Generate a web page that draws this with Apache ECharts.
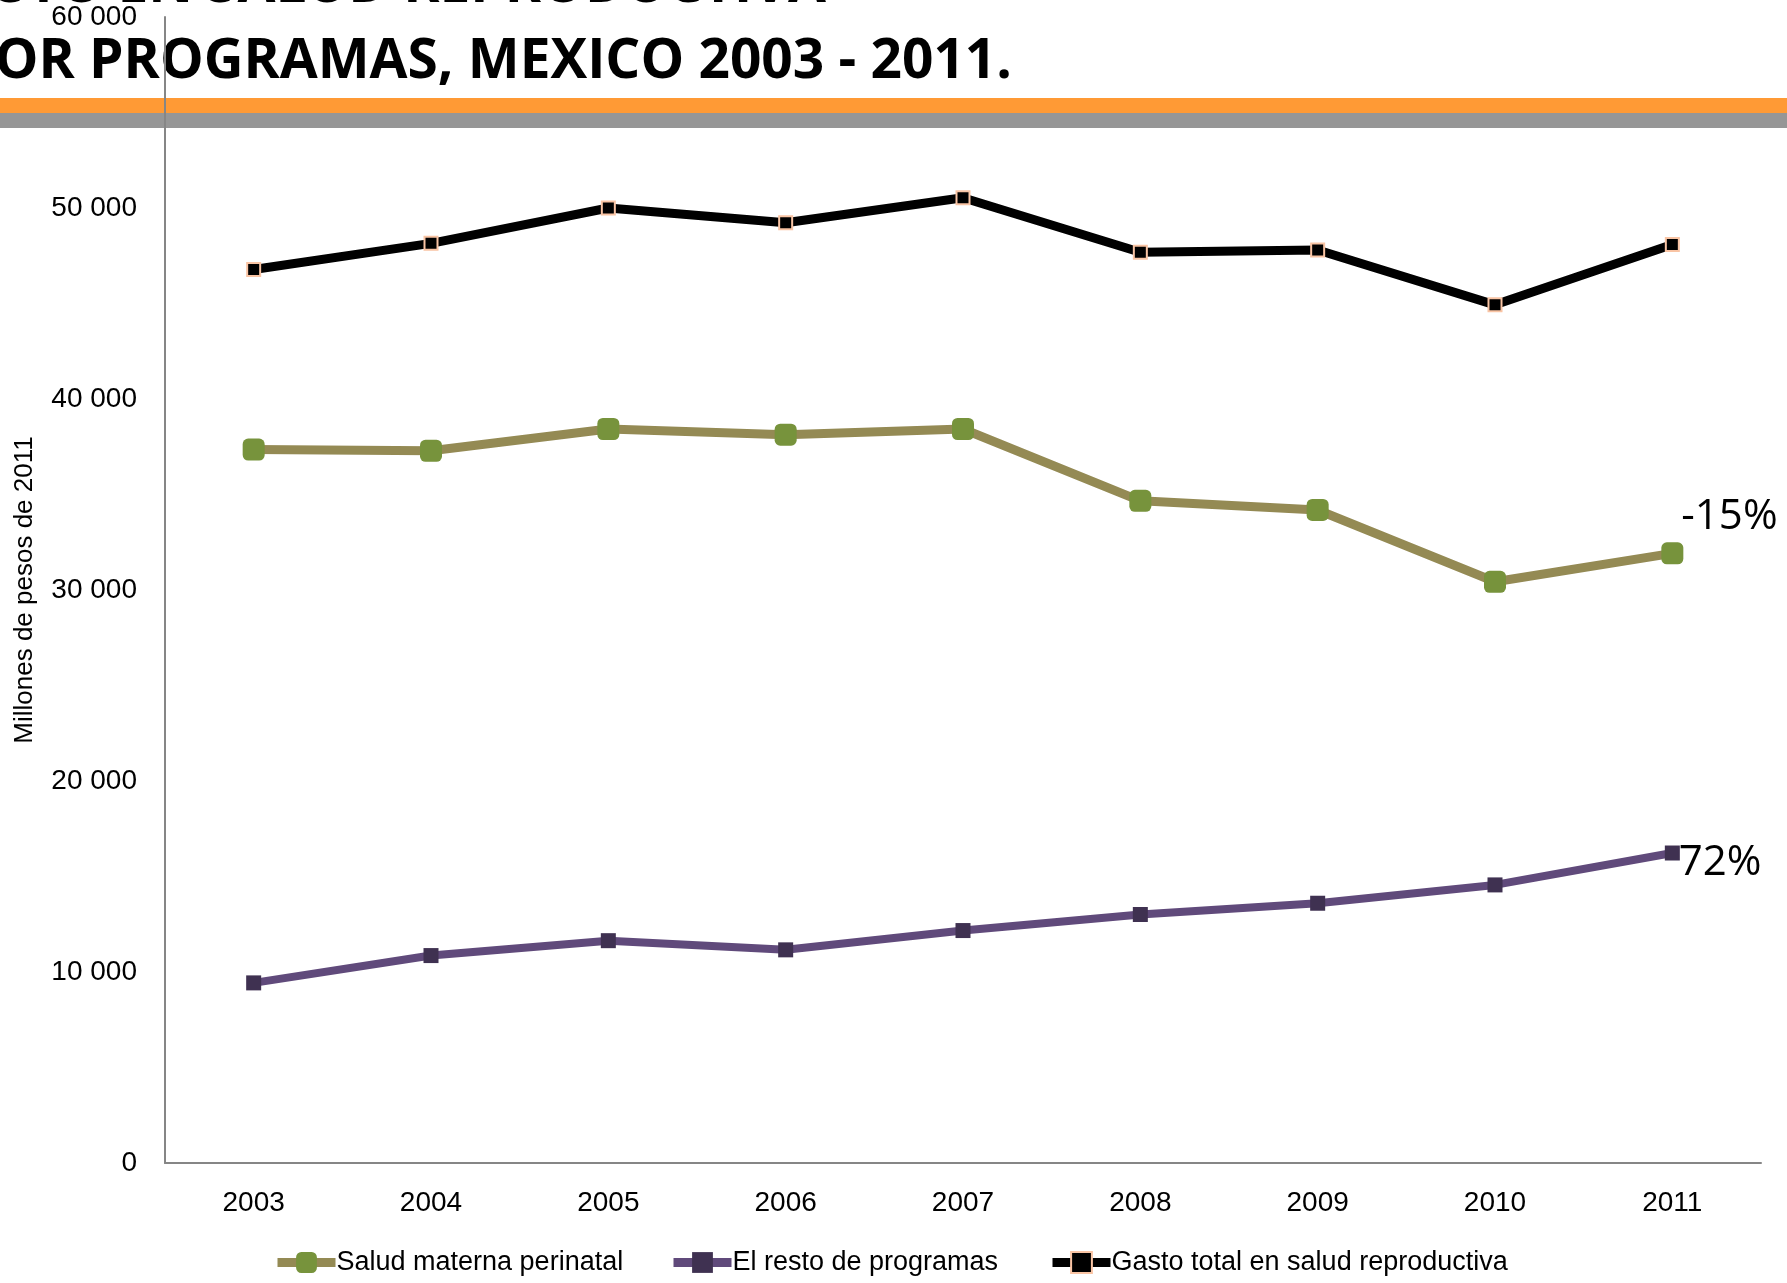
<!DOCTYPE html>
<html>
<head>
<meta charset="utf-8">
<script src="https://cdn.jsdelivr.net/npm/echarts@6/dist/echarts.min.js"></script>
<style>
  html, body { margin: 0; padding: 0; background: #fff; }
  #chart { width: 1787px; height: 1283px; }
</style>
</head>
<body>
<div id="chart"></div>
<script>
  // años del eje x
  const years = ['2003', '2004', '2005', '2006', '2007', '2008', '2009', '2010', '2011']
  // millones de pesos de 2011
  const saludMaterna = [37350, 37290, 38430, 38130, 38430, 34670, 34190, 30430, 31920]
  const restoProgramas = [9430, 10860, 11640, 11160, 12170, 13010, 13600, 14560, 16230]
  const gastoTotal = [46780, 48150, 50000, 49230, 50540, 47680, 47800, 44930, 48090]
  const seriesNames = ['Salud materna perinatal', 'El resto de programas', 'Gasto total en salud reproductiva']
  const cambio = ['-15%', '72%']
  const titleLines = ['GASTO EN SALUD REPRODUCTIVA', 'POR PROGRAMAS, MEXICO 2003 - 2011.']

  const FONT = '"Liberation Sans", Arial, sans-serif'
  const LEGEND_LEFT = [268, 664, 1043]

  function withEndLabel(values, text, offset, distance) {
    return values.map((v, i) => {
      if (i !== values.length - 1) return v
      return {
        value: v,
        label: {
          show: true,
          formatter: text,
          position: 'right',
          distance: distance,
          offset: offset,
          fontFamily: '"Open Sans", sans-serif',
          fontSize: 42,
          color: '#000'
        }
      }
    })
  }

  // una leyenda por serie, para fijar cada posición
  const legends = seriesNames.map((name, i) => ({
    left: LEGEND_LEFT[i],
    top: 1244,
    itemWidth: 58,
    itemHeight: 26,
    lineStyle: {width: 9},
    textStyle: {fontFamily: FONT, fontSize: 27, color: '#000', padding: [0, 0, 0, -4]},
    data: [name]
  }))

  const chart = echarts.init(document.getElementById('chart'))
  chart.setOption({
    animation: false,
    backgroundColor: '#fff',
    graphic: [
      {type: 'rect', z: -10, shape: {x: 0, y: 98, width: 1787, height: 15}, style: {fill: '#FF9A35'}},
      {type: 'rect', z: -10, shape: {x: 0, y: 113, width: 1787, height: 15}, style: {fill: '#969696'}},
      {
        type: 'text', z: -5, x: 826, y: -14,
        style: {
          text: titleLines[0], align: 'right', verticalAlign: 'middle',
          font: 'bold 55px "Open Sans", sans-serif', fill: '#000'
        }
      },
      {
        type: 'text', z: -5, x: 1012, y: 62,
        style: {
          text: titleLines[1], align: 'right', verticalAlign: 'middle',
          font: 'bold 55px "Open Sans", sans-serif', fill: '#000'
        }
      }
    ],
    grid: {left: 165, right: 26, top: 17, bottom: 120, outerBoundsMode: 'none'},
    legend: legends,
    xAxis: {
      type: 'category',
      data: years,
      boundaryGap: true,
      axisLine: {lineStyle: {color: '#868686', width: 2}},
      axisTick: {show: false},
      axisLabel: {fontFamily: FONT, fontSize: 28, color: '#000', margin: 26}
    },
    yAxis: {
      type: 'value',
      min: 0,
      max: 60000,
      interval: 10000,
      name: 'Millones de pesos de 2011',
      nameLocation: 'middle',
      nameRotate: 90,
      nameGap: 127,
      nameTextStyle: {fontFamily: FONT, fontSize: 26, color: '#000'},
      axisLine: {show: true, lineStyle: {color: '#868686', width: 2}},
      axisTick: {show: false},
      splitLine: {show: false},
      axisLabel: {
        fontFamily: FONT, fontSize: 28, color: '#000', margin: 28,
        formatter: v => String(v).replace(/\B(?=(\d{3})+(?!\d))/g, ' ')
      }
    },
    series: [
      {
        name: seriesNames[0],
        type: 'line',
        data: withEndLabel(saludMaterna, cambio[0], [-4, -36], 2),
        symbol: 'roundRect',
        symbolSize: 22,
        lineStyle: {color: '#948A54', width: 9},
        itemStyle: {color: '#77933C', borderWidth: 0}
      },
      {
        name: seriesNames[1],
        type: 'line',
        data: withEndLabel(restoProgramas, cambio[1], [-4, 10], 3),
        symbol: 'rect',
        symbolSize: 15,
        lineStyle: {color: '#604A7B', width: 8},
        itemStyle: {color: '#3F3151', borderWidth: 0}
      },
      {
        name: seriesNames[2],
        type: 'line',
        data: gastoTotal,
        symbol: 'rect',
        symbolSize: 13,
        lineStyle: {color: '#000000', width: 9},
        itemStyle: {color: '#000000', borderColor: '#F9C4A4', borderWidth: 2}
      }
    ]
  })
</script>
</body>
</html>
